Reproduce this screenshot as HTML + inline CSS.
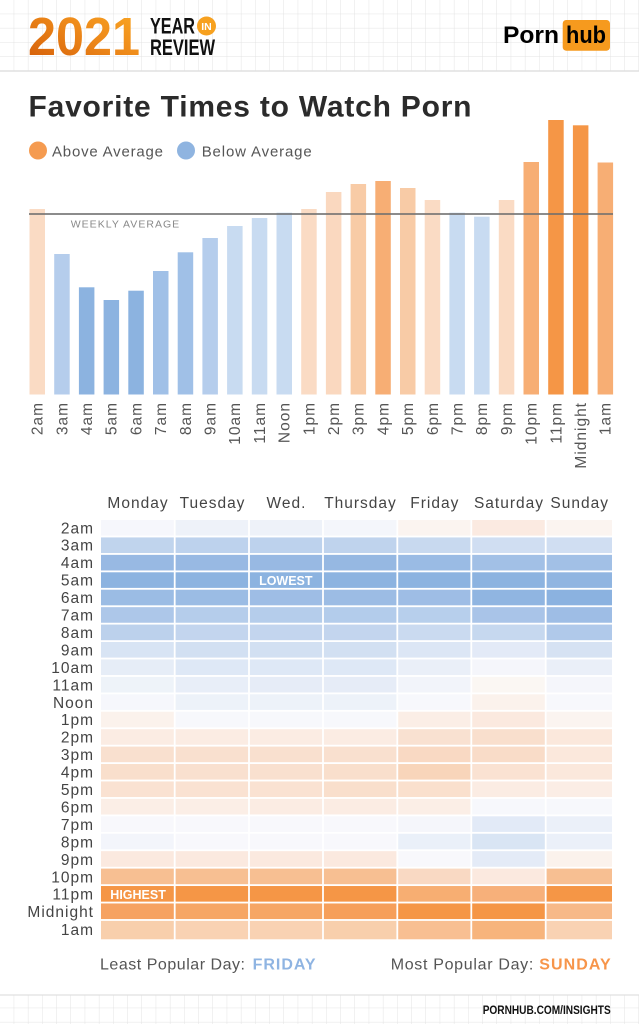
<!DOCTYPE html>
<html><head><meta charset="utf-8">
<style>
html,body{margin:0;padding:0;background:#fff;}
body{width:639px;height:1024px;overflow:hidden;}
svg{display:block;font-family:"Liberation Sans",sans-serif;}
</style></head>
<body>
<svg width="639" height="1024" viewBox="0 0 639 1024" xmlns="http://www.w3.org/2000/svg">
<defs>
<pattern id="grid" width="14.2" height="14.2" patternUnits="userSpaceOnUse">
<path d="M14.2 0V14.2M0 14.2H14.2" stroke="#e3e3e3" stroke-width="1" fill="none"/>
</pattern>
<linearGradient id="og" x1="0" y1="1" x2="1" y2="0">
<stop offset="0" stop-color="#d25a08"/>
<stop offset="0.55" stop-color="#ee8a1a"/>
<stop offset="1" stop-color="#fbaa26"/>
</linearGradient>
</defs>
<rect width="639" height="1024" fill="#fff"/>
<!-- header grid -->
<rect x="0" y="0" width="639" height="71" fill="url(#grid)"/>
<line x1="0" y1="71" x2="639" y2="71" stroke="#e0e0e0" stroke-width="1.5"/>
<!-- footer grid -->
<rect x="0" y="995" width="639" height="29" fill="url(#grid)"/>
<line x1="0" y1="995" x2="639" y2="995" stroke="#e0e0e0" stroke-width="1.2"/>

<!-- logo 2021 -->
<text x="28" y="55" font-size="54" font-weight="bold" fill="url(#og)" textLength="112" lengthAdjust="spacingAndGlyphs">2021</text>
<text x="150" y="33.3" font-size="22.5" font-weight="bold" fill="#111" textLength="45" lengthAdjust="spacingAndGlyphs">YEAR</text>
<text x="150" y="55" font-size="22.5" font-weight="bold" fill="#111" textLength="65" lengthAdjust="spacingAndGlyphs">REVIEW</text>
<circle cx="206.5" cy="26" r="9.5" fill="#f7a11f"/>
<text x="206.5" y="30" font-size="10.5" font-weight="bold" fill="#fff" text-anchor="middle">IN</text>

<!-- pornhub logo -->
<text x="503" y="43" font-size="24" font-weight="bold" fill="#000" textLength="56" lengthAdjust="spacingAndGlyphs">Porn</text>
<rect x="562.7" y="20" width="47.3" height="30.7" rx="3.5" fill="#f69a1e"/>
<text x="566" y="43" font-size="24" font-weight="bold" fill="#000" textLength="40" lengthAdjust="spacingAndGlyphs">hub</text>

<!-- title -->
<text x="28.5" y="116.7" font-size="30" font-weight="bold" fill="#2b2b2b" textLength="443" lengthAdjust="spacing">Favorite Times to Watch Porn</text>

<!-- legend -->
<circle cx="38" cy="150.5" r="9" fill="#f59b50"/>
<text x="52" y="156.3" font-size="15" fill="#555" textLength="111" lengthAdjust="spacing">Above Average</text>
<circle cx="186" cy="150.5" r="9" fill="#8fb4e0"/>
<text x="201.7" y="156.3" font-size="15" fill="#555" textLength="110" lengthAdjust="spacing">Below Average</text>

<!-- bars -->
<g>
<rect x="29.5" y="209" width="15.5" height="185.5" fill="#fadbc4"/>
<rect x="54.2" y="254" width="15.5" height="140.5" fill="#b5cdec"/>
<rect x="78.9" y="287.3" width="15.5" height="107.2" fill="#8cb3e0"/>
<rect x="103.6" y="300" width="15.5" height="94.5" fill="#8cb3e0"/>
<rect x="128.3" y="290.7" width="15.5" height="103.8" fill="#8cb3e0"/>
<rect x="153" y="271" width="15.5" height="123.5" fill="#a0c0e7"/>
<rect x="177.7" y="252.3" width="15.5" height="142.2" fill="#a0c0e7"/>
<rect x="202.4" y="238" width="15.5" height="156.5" fill="#b5cdec"/>
<rect x="227.1" y="226" width="15.5" height="168.5" fill="#c8dbf1"/>
<rect x="251.8" y="218" width="15.5" height="176.5" fill="#c8dbf1"/>
<rect x="276.5" y="212.7" width="15.5" height="181.8" fill="#c8dbf1"/>
<rect x="301.2" y="209" width="15.5" height="185.5" fill="#fadbc4"/>
<rect x="325.9" y="192" width="15.5" height="202.5" fill="#fad8bf"/>
<rect x="350.6" y="184" width="15.5" height="210.5" fill="#f8cba6"/>
<rect x="375.3" y="181" width="15.5" height="213.5" fill="#f7ae74"/>
<rect x="400" y="188" width="15.5" height="206.5" fill="#f8cba6"/>
<rect x="424.7" y="200" width="15.5" height="194.5" fill="#fadbc4"/>
<rect x="449.4" y="212.7" width="15.5" height="181.8" fill="#c8dbf1"/>
<rect x="474.1" y="216.7" width="15.5" height="177.8" fill="#c8dbf1"/>
<rect x="498.8" y="200" width="15.5" height="194.5" fill="#fadbc4"/>
<rect x="523.5" y="162" width="15.5" height="232.5" fill="#f7ae74"/>
<rect x="548.2" y="120" width="15.5" height="274.5" fill="#f59646"/>
<rect x="572.9" y="125.3" width="15.5" height="269.2" fill="#f59646"/>
<rect x="597.6" y="162.5" width="15.5" height="232" fill="#f7ae74"/>
</g>
<!-- average line -->
<line x1="29" y1="214" x2="613" y2="214" stroke="#6e6e6e" stroke-opacity="0.9" stroke-width="1.8"/>
<text x="70.7" y="227.3" font-size="10.5" fill="#888" textLength="108.5" lengthAdjust="spacing">WEEKLY AVERAGE</text>

<!-- bar labels -->
<g font-size="15.5" fill="#555" letter-spacing="1" text-anchor="end">
<text transform="translate(42.6,402) rotate(-90)">2am</text>
<text transform="translate(67.3,402) rotate(-90)">3am</text>
<text transform="translate(92,402) rotate(-90)">4am</text>
<text transform="translate(116.7,402) rotate(-90)">5am</text>
<text transform="translate(141.4,402) rotate(-90)">6am</text>
<text transform="translate(166.1,402) rotate(-90)">7am</text>
<text transform="translate(190.8,402) rotate(-90)">8am</text>
<text transform="translate(215.5,402) rotate(-90)">9am</text>
<text transform="translate(240.2,402) rotate(-90)">10am</text>
<text transform="translate(264.9,402) rotate(-90)">11am</text>
<text transform="translate(289.6,402) rotate(-90)">Noon</text>
<text transform="translate(314.3,402) rotate(-90)">1pm</text>
<text transform="translate(339,402) rotate(-90)">2pm</text>
<text transform="translate(363.7,402) rotate(-90)">3pm</text>
<text transform="translate(388.4,402) rotate(-90)">4pm</text>
<text transform="translate(413.1,402) rotate(-90)">5pm</text>
<text transform="translate(437.8,402) rotate(-90)">6pm</text>
<text transform="translate(462.5,402) rotate(-90)">7pm</text>
<text transform="translate(487.2,402) rotate(-90)">8pm</text>
<text transform="translate(511.9,402) rotate(-90)">9pm</text>
<text transform="translate(536.6,402) rotate(-90)">10pm</text>
<text transform="translate(561.3,402) rotate(-90)">11pm</text>
<text transform="translate(586,402) rotate(-90)">Midnight</text>
<text transform="translate(610.7,402) rotate(-90)">1am</text>
</g>

<!-- day labels -->
<g font-size="15.5" fill="#444" letter-spacing="1" text-anchor="middle">
<text x="138" y="508">Monday</text>
<text x="212.5" y="508">Tuesday</text>
<text x="286.5" y="508">Wed.</text>
<text x="360.5" y="508">Thursday</text>
<text x="434.8" y="508">Friday</text>
<text x="509" y="508">Saturday</text>
<text x="579.7" y="508">Sunday</text>
</g>

<!-- row labels -->
<g font-size="15.5" fill="#444" letter-spacing="1" text-anchor="end">
<text x="94" y="533.3">2am</text>
<text x="94" y="550.7">3am</text>
<text x="94" y="568.2">4am</text>
<text x="94" y="585.6">5am</text>
<text x="94" y="603.1">6am</text>
<text x="94" y="620.5">7am</text>
<text x="94" y="638">8am</text>
<text x="94" y="655.4">9am</text>
<text x="94" y="672.9">10am</text>
<text x="94" y="690.3">11am</text>
<text x="94" y="707.8">Noon</text>
<text x="94" y="725.2">1pm</text>
<text x="94" y="742.7">2pm</text>
<text x="94" y="760.1">3pm</text>
<text x="94" y="777.6">4pm</text>
<text x="94" y="795">5pm</text>
<text x="94" y="812.5">6pm</text>
<text x="94" y="829.9">7pm</text>
<text x="94" y="847.4">8pm</text>
<text x="94" y="864.8">9pm</text>
<text x="94" y="882.3">10pm</text>
<text x="94" y="899.7">11pm</text>
<text x="94" y="917.2">Midnight</text>
<text x="94" y="935">1am</text>
</g>

<!-- heatmap -->
<g>
<!-- 2am -->
<g transform="translate(0,520)">
<rect x="101" width="72.8" height="15.6" fill="#f6f7fc"/><rect x="175.6" width="72.5" height="15.6" fill="#eef2f9"/><rect x="249.9" width="72.2" height="15.6" fill="#eef2f9"/><rect x="323.9" width="72.5" height="15.6" fill="#f4f6fb"/><rect x="398.2" width="72.2" height="15.6" fill="#fbf4f0"/><rect x="472.2" width="72.6" height="15.6" fill="#fbeae1"/><rect x="546.6" width="65.4" height="15.6" fill="#fbf4f0"/>
</g>
<!-- 3am -->
<g transform="translate(0,537.43)">
<rect x="101" width="72.8" height="15.6" fill="#c0d4ed"/><rect x="175.6" width="72.5" height="15.6" fill="#bdd2ed"/><rect x="249.9" width="72.2" height="15.6" fill="#bdd2ed"/><rect x="323.9" width="72.5" height="15.6" fill="#bfd3ed"/><rect x="398.2" width="72.2" height="15.6" fill="#c8d9ef"/><rect x="472.2" width="72.6" height="15.6" fill="#d0def2"/><rect x="546.6" width="65.4" height="15.6" fill="#d0def2"/>
</g>
<!-- 4am -->
<g transform="translate(0,554.86)">
<rect x="101" width="72.8" height="15.6" fill="#98b9e3"/><rect x="175.6" width="72.5" height="15.6" fill="#98b9e3"/><rect x="249.9" width="72.2" height="15.6" fill="#98b9e3"/><rect x="323.9" width="72.5" height="15.6" fill="#96b8e2"/><rect x="398.2" width="72.2" height="15.6" fill="#9abbe4"/><rect x="472.2" width="72.6" height="15.6" fill="#a2c0e6"/><rect x="546.6" width="65.4" height="15.6" fill="#a2c0e6"/>
</g>
<!-- 5am -->
<g transform="translate(0,572.29)">
<rect x="101" width="72.8" height="15.6" fill="#8cb3e0"/><rect x="175.6" width="72.5" height="15.6" fill="#8cb3e0"/><rect x="249.9" width="72.2" height="15.6" fill="#8cb3e0"/><rect x="323.9" width="72.5" height="15.6" fill="#8cb3e0"/><rect x="398.2" width="72.2" height="15.6" fill="#8cb3e0"/><rect x="472.2" width="72.6" height="15.6" fill="#8cb3e0"/><rect x="546.6" width="65.4" height="15.6" fill="#90b5e1"/>
</g>
<!-- 6am -->
<g transform="translate(0,589.72)">
<rect x="101" width="72.8" height="15.6" fill="#9bbce4"/><rect x="175.6" width="72.5" height="15.6" fill="#9bbce4"/><rect x="249.9" width="72.2" height="15.6" fill="#9ebde5"/><rect x="323.9" width="72.5" height="15.6" fill="#9cbce4"/><rect x="398.2" width="72.2" height="15.6" fill="#9ebde5"/><rect x="472.2" width="72.6" height="15.6" fill="#90b5e1"/><rect x="546.6" width="65.4" height="15.6" fill="#8bb2e0"/>
</g>
<!-- 7am -->
<g transform="translate(0,607.15)">
<rect x="101" width="72.8" height="15.6" fill="#adc7e9"/><rect x="175.6" width="72.5" height="15.6" fill="#b5cdeb"/><rect x="249.9" width="72.2" height="15.6" fill="#b5cdeb"/><rect x="323.9" width="72.5" height="15.6" fill="#b3cceb"/><rect x="398.2" width="72.2" height="15.6" fill="#b7cfec"/><rect x="472.2" width="72.6" height="15.6" fill="#a9c4e8"/><rect x="546.6" width="65.4" height="15.6" fill="#9ebde5"/>
</g>
<!-- 8am -->
<g transform="translate(0,624.58)">
<rect x="101" width="72.8" height="15.6" fill="#bcd1ec"/><rect x="175.6" width="72.5" height="15.6" fill="#c3d5ee"/><rect x="249.9" width="72.2" height="15.6" fill="#c3d5ee"/><rect x="323.9" width="72.5" height="15.6" fill="#c3d5ee"/><rect x="398.2" width="72.2" height="15.6" fill="#cadaf0"/><rect x="472.2" width="72.6" height="15.6" fill="#c6d8ef"/><rect x="546.6" width="65.4" height="15.6" fill="#b0c9ea"/>
</g>
<!-- 9am -->
<g transform="translate(0,642.01)">
<rect x="101" width="72.8" height="15.6" fill="#d8e4f4"/><rect x="175.6" width="72.5" height="15.6" fill="#d2e0f2"/><rect x="249.9" width="72.2" height="15.6" fill="#d2e0f2"/><rect x="323.9" width="72.5" height="15.6" fill="#d2e0f2"/><rect x="398.2" width="72.2" height="15.6" fill="#dce6f5"/><rect x="472.2" width="72.6" height="15.6" fill="#e3eaf7"/><rect x="546.6" width="65.4" height="15.6" fill="#d6e2f3"/>
</g>
<!-- 10am -->
<g transform="translate(0,659.44)">
<rect x="101" width="72.8" height="15.6" fill="#e6edf7"/><rect x="175.6" width="72.5" height="15.6" fill="#dee8f6"/><rect x="249.9" width="72.2" height="15.6" fill="#dee8f6"/><rect x="323.9" width="72.5" height="15.6" fill="#dee8f6"/><rect x="398.2" width="72.2" height="15.6" fill="#eaeff8"/><rect x="472.2" width="72.6" height="15.6" fill="#f5f6fb"/><rect x="546.6" width="65.4" height="15.6" fill="#eaeff8"/>
</g>
<!-- 11am -->
<g transform="translate(0,676.87)">
<rect x="101" width="72.8" height="15.6" fill="#eef3f9"/><rect x="175.6" width="72.5" height="15.6" fill="#e8eef8"/><rect x="249.9" width="72.2" height="15.6" fill="#e6ecf7"/><rect x="323.9" width="72.5" height="15.6" fill="#e6ecf7"/><rect x="398.2" width="72.2" height="15.6" fill="#f2f4fa"/><rect x="472.2" width="72.6" height="15.6" fill="#fbf7f3"/><rect x="546.6" width="65.4" height="15.6" fill="#f5f6fb"/>
</g>
<!-- Noon -->
<g transform="translate(0,694.3)">
<rect x="101" width="72.8" height="15.6" fill="#f6f7fc"/><rect x="175.6" width="72.5" height="15.6" fill="#edf2f9"/><rect x="249.9" width="72.2" height="15.6" fill="#edf2f9"/><rect x="323.9" width="72.5" height="15.6" fill="#edf2f9"/><rect x="398.2" width="72.2" height="15.6" fill="#f7f8fc"/><rect x="472.2" width="72.6" height="15.6" fill="#fbf2ec"/><rect x="546.6" width="65.4" height="15.6" fill="#f7f8fc"/>
</g>
<!-- 1pm -->
<g transform="translate(0,711.73)">
<rect x="101" width="72.8" height="15.6" fill="#fbf2ec"/><rect x="175.6" width="72.5" height="15.6" fill="#f7f8fc"/><rect x="249.9" width="72.2" height="15.6" fill="#f7f8fc"/><rect x="323.9" width="72.5" height="15.6" fill="#f7f8fc"/><rect x="398.2" width="72.2" height="15.6" fill="#fbeee6"/><rect x="472.2" width="72.6" height="15.6" fill="#fbe9df"/><rect x="546.6" width="65.4" height="15.6" fill="#fbf4f0"/>
</g>
<!-- 2pm -->
<g transform="translate(0,729.16)">
<rect x="101" width="72.8" height="15.6" fill="#fbece3"/><rect x="175.6" width="72.5" height="15.6" fill="#fbece3"/><rect x="249.9" width="72.2" height="15.6" fill="#fbece3"/><rect x="323.9" width="72.5" height="15.6" fill="#fbece3"/><rect x="398.2" width="72.2" height="15.6" fill="#f9e1d1"/><rect x="472.2" width="72.6" height="15.6" fill="#f9dfcd"/><rect x="546.6" width="65.4" height="15.6" fill="#fbe8dc"/>
</g>
<!-- 3pm -->
<g transform="translate(0,746.59)">
<rect x="101" width="72.8" height="15.6" fill="#f9e0cf"/><rect x="175.6" width="72.5" height="15.6" fill="#f9e0cf"/><rect x="249.9" width="72.2" height="15.6" fill="#f9e0cf"/><rect x="323.9" width="72.5" height="15.6" fill="#f9e0cf"/><rect x="398.2" width="72.2" height="15.6" fill="#f9d9c3"/><rect x="472.2" width="72.6" height="15.6" fill="#f9dcc8"/><rect x="546.6" width="65.4" height="15.6" fill="#fbe8dc"/>
</g>
<!-- 4pm -->
<g transform="translate(0,764.02)">
<rect x="101" width="72.8" height="15.6" fill="#f9dfcc"/><rect x="175.6" width="72.5" height="15.6" fill="#f9e0cf"/><rect x="249.9" width="72.2" height="15.6" fill="#f9e0cf"/><rect x="323.9" width="72.5" height="15.6" fill="#f9dfcc"/><rect x="398.2" width="72.2" height="15.6" fill="#f8d5ba"/><rect x="472.2" width="72.6" height="15.6" fill="#fae2d2"/><rect x="546.6" width="65.4" height="15.6" fill="#fbe8dc"/>
</g>
<!-- 5pm -->
<g transform="translate(0,781.45)">
<rect x="101" width="72.8" height="15.6" fill="#fae2d2"/><rect x="175.6" width="72.5" height="15.6" fill="#fae2d2"/><rect x="249.9" width="72.2" height="15.6" fill="#fae2d2"/><rect x="323.9" width="72.5" height="15.6" fill="#f9dfcc"/><rect x="398.2" width="72.2" height="15.6" fill="#fae0cd"/><rect x="472.2" width="72.6" height="15.6" fill="#fbece3"/><rect x="546.6" width="65.4" height="15.6" fill="#fbede5"/>
</g>
<!-- 6pm -->
<g transform="translate(0,798.88)">
<rect x="101" width="72.8" height="15.6" fill="#fbeee6"/><rect x="175.6" width="72.5" height="15.6" fill="#fbeee6"/><rect x="249.9" width="72.2" height="15.6" fill="#fbece3"/><rect x="323.9" width="72.5" height="15.6" fill="#fbece3"/><rect x="398.2" width="72.2" height="15.6" fill="#fbeee6"/><rect x="472.2" width="72.6" height="15.6" fill="#f7f8fc"/><rect x="546.6" width="65.4" height="15.6" fill="#f7f8fc"/>
</g>
<!-- 7pm -->
<g transform="translate(0,816.31)">
<rect x="101" width="72.8" height="15.6" fill="#f8f8fc"/><rect x="175.6" width="72.5" height="15.6" fill="#f8f8fc"/><rect x="249.9" width="72.2" height="15.6" fill="#f8f8fc"/><rect x="323.9" width="72.5" height="15.6" fill="#f8f8fc"/><rect x="398.2" width="72.2" height="15.6" fill="#f5f6fb"/><rect x="472.2" width="72.6" height="15.6" fill="#e2eaf7"/><rect x="546.6" width="65.4" height="15.6" fill="#ebf0f9"/>
</g>
<!-- 8pm -->
<g transform="translate(0,833.74)">
<rect x="101" width="72.8" height="15.6" fill="#f3f5fb"/><rect x="175.6" width="72.5" height="15.6" fill="#f8f8fc"/><rect x="249.9" width="72.2" height="15.6" fill="#f8f8fc"/><rect x="323.9" width="72.5" height="15.6" fill="#f8f8fc"/><rect x="398.2" width="72.2" height="15.6" fill="#eaf0f9"/><rect x="472.2" width="72.6" height="15.6" fill="#d9e5f4"/><rect x="546.6" width="65.4" height="15.6" fill="#ebf0f9"/>
</g>
<!-- 9pm -->
<g transform="translate(0,851.17)">
<rect x="101" width="72.8" height="15.6" fill="#fbe9df"/><rect x="175.6" width="72.5" height="15.6" fill="#fbe9df"/><rect x="249.9" width="72.2" height="15.6" fill="#fbe9df"/><rect x="323.9" width="72.5" height="15.6" fill="#fbe9df"/><rect x="398.2" width="72.2" height="15.6" fill="#f8f8fc"/><rect x="472.2" width="72.6" height="15.6" fill="#e4ebf7"/><rect x="546.6" width="65.4" height="15.6" fill="#fbf2ec"/>
</g>
<!-- 10pm -->
<g transform="translate(0,868.6)">
<rect x="101" width="72.8" height="15.6" fill="#f7bf92"/><rect x="175.6" width="72.5" height="15.6" fill="#f7bf92"/><rect x="249.9" width="72.2" height="15.6" fill="#f7bf92"/><rect x="323.9" width="72.5" height="15.6" fill="#f7bf92"/><rect x="398.2" width="72.2" height="15.6" fill="#f9d9c3"/><rect x="472.2" width="72.6" height="15.6" fill="#fbe9df"/><rect x="546.6" width="65.4" height="15.6" fill="#f7bf92"/>
</g>
<!-- 11pm -->
<g transform="translate(0,886.03)">
<rect x="101" width="72.8" height="15.6" fill="#f59646"/><rect x="175.6" width="72.5" height="15.6" fill="#f59646"/><rect x="249.9" width="72.2" height="15.6" fill="#f59646"/><rect x="323.9" width="72.5" height="15.6" fill="#f59646"/><rect x="398.2" width="72.2" height="15.6" fill="#f7ae72"/><rect x="472.2" width="72.6" height="15.6" fill="#f7b07a"/><rect x="546.6" width="65.4" height="15.6" fill="#f59646"/>
</g>
<!-- Midnight -->
<g transform="translate(0,903.46)">
<rect x="101" width="72.8" height="15.6" fill="#f6a261"/><rect x="175.6" width="72.5" height="15.6" fill="#f6a665"/><rect x="249.9" width="72.2" height="15.6" fill="#f6a665"/><rect x="323.9" width="72.5" height="15.6" fill="#f69f5a"/><rect x="398.2" width="72.2" height="15.6" fill="#f59646"/><rect x="472.2" width="72.6" height="15.6" fill="#f59646"/><rect x="546.6" width="65.4" height="15.6" fill="#f7b988"/>
</g>
<!-- 1am -->
<g transform="translate(0,920.89)">
<rect x="101" width="72.8" height="18.4" fill="#f8cfac"/><rect x="175.6" width="72.5" height="18.4" fill="#f9d2b3"/><rect x="249.9" width="72.2" height="18.4" fill="#f9d2b3"/><rect x="323.9" width="72.5" height="18.4" fill="#f8cfac"/><rect x="398.2" width="72.2" height="18.4" fill="#f8bf92"/><rect x="472.2" width="72.6" height="18.4" fill="#f7b47c"/><rect x="546.6" width="65.4" height="18.4" fill="#f9d2b3"/>
</g>
</g>

<text x="285.8" y="585" font-size="12.5" font-weight="bold" fill="#fff" text-anchor="middle">LOWEST</text>
<text x="110.3" y="899" font-size="12.5" font-weight="bold" fill="#fff">HIGHEST</text>

<!-- footer summary -->
<text x="100" y="969.3" font-size="16" fill="#555" textLength="145" lengthAdjust="spacing">Least Popular Day:</text>
<text x="252.6" y="969.3" font-size="16" font-weight="bold" fill="#8fb4e2" textLength="63" lengthAdjust="spacing">FRIDAY</text>
<text x="390.7" y="969.3" font-size="16" fill="#555" textLength="142.6" lengthAdjust="spacing">Most Popular Day:</text>
<text x="539.3" y="969.3" font-size="16" font-weight="bold" fill="#f7954a" textLength="71.4" lengthAdjust="spacing">SUNDAY</text>

<text x="482.7" y="1014" font-size="12.3" font-weight="bold" fill="#111" textLength="128" lengthAdjust="spacingAndGlyphs">PORNHUB.COM/INSIGHTS</text>
</svg>
</body></html>
